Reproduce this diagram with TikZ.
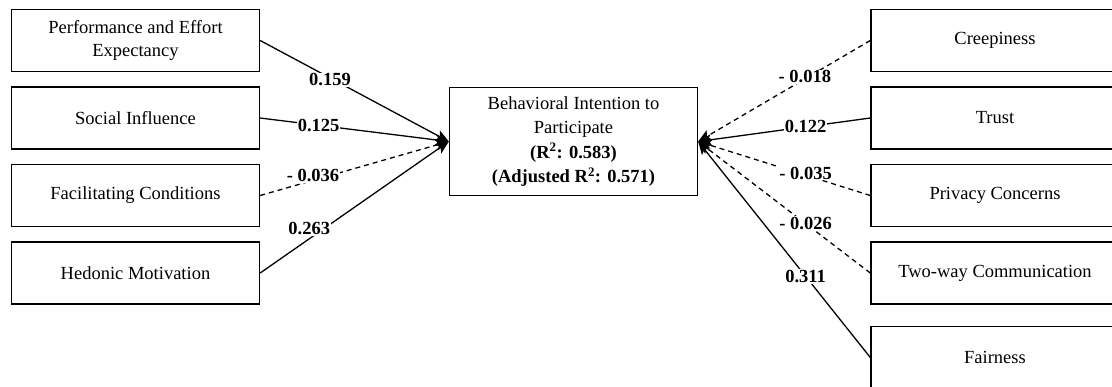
\documentclass[tikz,border=0pt]{standalone}
\usepackage{fontspec}
\setmainfont{Liberation Serif}
\usetikzlibrary{arrows.meta}
\tikzset{
  factor/.style={draw, line width=1.4pt, minimum width=248pt, minimum height=62pt,
    align=center, inner sep=2pt, font=\fontsize{18.5}{23}\selectfont},
  target/.style={factor, minimum height=108pt, font=\fontsize{18.5}{24.5}\selectfont},
  path/.style={line width=1.3pt, -{Stealth[length=13pt,width=11pt,inset=3pt]}},
  weak/.style={path, dash pattern=on 5pt off 4pt},
  lbl/.style={fill=white, inner sep=1pt, font=\fontsize{18.5}{20}\selectfont\bfseries}
}
\begin{document}
\begin{tikzpicture}[x=1pt,y=-1pt]
\useasboundingbox (0,0) rectangle (1112,386);
\clip (0,0) rectangle (1112,386);
\fill[white] (0,0) rectangle (1112,386);

% predictors on the left
\node[factor] (pe) at (135.5,40.5) {Performance and Effort\\Expectancy};
\node[factor] (si) at (135.5,118) {Social Influence};
\node[factor] (fc) at (135.5,195.5) {Facilitating Conditions};
\node[factor] (hm) at (135.5,273) {Hedonic Motivation};

% outcome in the middle
\node[target] (bi) at (573.5,141.5) {Behavioral Intention to\\Participate\\
  \textbf{(R\textsuperscript{2}: 0.583)}\\\textbf{(Adjusted R\textsuperscript{2}: 0.571)}};

% predictors on the right
\node[factor] (cr) at (995,40.5) {Creepiness};
\node[factor] (tr) at (995,118) {Trust};
\node[factor] (pc) at (995,195.5) {Privacy Concerns};
\node[factor] (tw) at (995,273) {Two-way Communication};
\node[factor] (fa) at (995,357.5) {Fairness};

% paths into the outcome
\draw[path] (pe.east) -- node[lbl, pos=0.37, yshift=-2pt] {0.159} (bi.west);
\draw[path] (si.east) -- node[lbl, pos=0.31] {0.125} (bi.west);
\draw[weak] (fc.east) -- node[lbl, pos=0.28, yshift=5pt] {- 0.036} (bi.west);
\draw[path] (hm.east) -- node[lbl, pos=0.26, yshift=10pt] {0.263} (bi.west);

\draw[weak] (cr.west) -- node[lbl, pos=0.38, yshift=2pt] {- 0.018} (bi.east);
\draw[path] (tr.west) -- node[lbl, pos=0.376] {0.122} (bi.east);
\draw[weak] (pc.west) -- node[lbl, pos=0.376, yshift=2pt] {- 0.035} (bi.east);
\draw[weak] (tw.west) -- node[lbl, pos=0.376] {- 0.026} (bi.east);
\draw[path] (fa.west) -- node[lbl, pos=0.376] {0.311} (bi.east);
\end{tikzpicture}
\end{document}
